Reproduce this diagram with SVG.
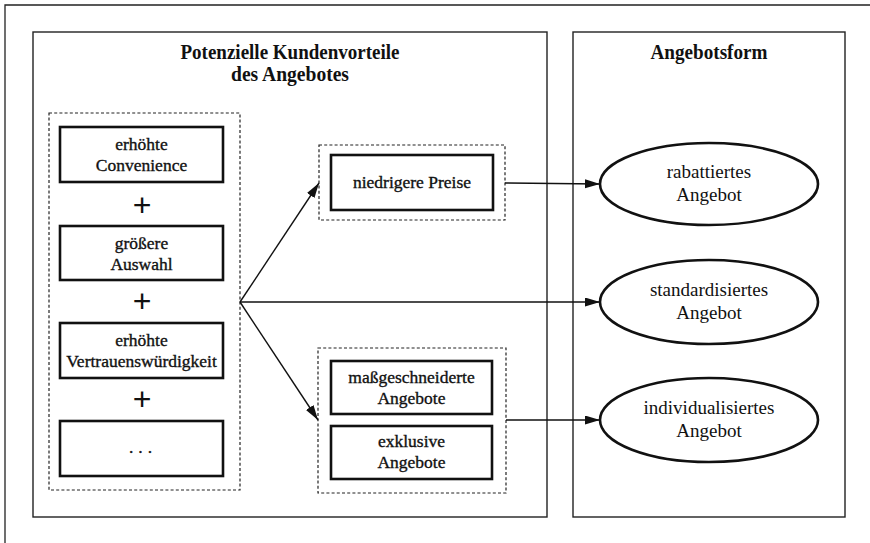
<svg xmlns="http://www.w3.org/2000/svg" width="870" height="543" viewBox="0 0 870 543">
<style>
.frame{fill:none;stroke:#222;stroke-width:1.3}
.panel{fill:none;stroke:#222;stroke-width:1.4}
.dot{fill:none;stroke:#222;stroke-width:1.2;stroke-dasharray:3 2.2}
.box{fill:#fff;stroke:#111;stroke-width:2.6}
.ell{fill:#fff;stroke:#111;stroke-width:2.6}
.hdr{font-family:"Liberation Serif","Times New Roman",serif;font-weight:bold;font-size:20px;fill:#111;text-anchor:middle}
.bt{font-family:"Liberation Serif","Times New Roman",serif;font-size:17.5px;fill:#111;stroke:#111;stroke-width:0.35;text-anchor:middle}
.et{font-family:"Liberation Serif","Times New Roman",serif;font-size:19px;fill:#111;text-anchor:middle}
.plus{font-family:"Liberation Sans",Arial,sans-serif;font-size:32px;fill:#111;text-anchor:middle}
.con{fill:none;stroke:#111;stroke-width:1.4}
</style>
<defs>
<marker id="ah" markerUnits="userSpaceOnUse" markerWidth="16" markerHeight="10" refX="15" refY="4.5" orient="auto">
<path d="M0,0 L15,4.5 L0,9 z" fill="#111"/>
</marker>
</defs>
<rect width="870" height="543" fill="#fff"/>
<g id="frame">
<path class="frame" d="M5,543 L5,5 L870,5"/>
</g>
<g id="panel-left">
<rect class="panel" x="33" y="32" width="514" height="485"/>
<text class="hdr" x="290" y="59" textLength="219" lengthAdjust="spacingAndGlyphs">Potenzielle Kundenvorteile</text>
<text class="hdr" x="290" y="81" textLength="118" lengthAdjust="spacingAndGlyphs">des Angebotes</text>
</g>
<g id="panel-right">
<rect class="panel" x="573" y="32" width="272" height="485"/>
<text class="hdr" x="709" y="59" textLength="117" lengthAdjust="spacingAndGlyphs">Angebotsform</text>
</g>
<g id="group-benefits">
<rect class="dot" x="49" y="113" width="191" height="377"/>
</g>
<g id="n-convenience">
<rect class="box" x="60" y="127" width="163" height="55"/>
<text class="bt" x="141.5" y="150">erhöhte</text>
<text class="bt" x="141.5" y="171">Convenience</text>
</g>
<text class="plus" x="142" y="216">+</text>
<g id="n-auswahl">
<rect class="box" x="60" y="226" width="163" height="54"/>
<text class="bt" x="141.5" y="249">größere</text>
<text class="bt" x="141.5" y="270">Auswahl</text>
</g>
<text class="plus" x="142" y="312">+</text>
<g id="n-vertrauen">
<rect class="box" x="60" y="323" width="163" height="55"/>
<text class="bt" x="141.5" y="346">erhöhte</text>
<text class="bt" x="141.5" y="367">Vertrauenswürdigkeit</text>
</g>
<text class="plus" x="142" y="410">+</text>
<g id="n-more">
<rect class="box" x="60" y="421" width="163" height="55"/>
<text class="bt" x="143" y="453" letter-spacing="5">...</text>
</g>
<g id="n-preise">
<rect class="dot" x="319" y="145" width="186" height="75"/>
<rect class="box" x="331" y="155" width="162" height="55"/>
<text class="bt" x="412" y="188">niedrigere Preise</text>
</g>
<g id="n-individuell">
<rect class="dot" x="318" y="348" width="188" height="145"/>
<rect class="box" x="331" y="361" width="161" height="53"/>
<text class="bt" x="411.5" y="383">maßgeschneiderte</text>
<text class="bt" x="411.5" y="404">Angebote</text>
<rect class="box" x="331" y="426" width="161" height="53"/>
<text class="bt" x="411.5" y="447">exklusive</text>
<text class="bt" x="411.5" y="468">Angebote</text>
</g>
<g id="n-rabattiert">
<ellipse class="ell" cx="709" cy="184" rx="109" ry="41"/>
<text class="et" x="709" y="178">rabattiertes</text>
<text class="et" x="709" y="201">Angebot</text>
</g>
<g id="n-standard">
<ellipse class="ell" cx="709" cy="302" rx="109" ry="42"/>
<text class="et" x="709" y="296">standardisiertes</text>
<text class="et" x="709" y="319">Angebot</text>
</g>
<g id="n-individualisiert">
<ellipse class="ell" cx="709" cy="420" rx="109" ry="42"/>
<text class="et" x="709" y="414">individualisiertes</text>
<text class="et" x="709" y="437">Angebot</text>
</g>
<g id="connectors">
<line class="con" x1="240" y1="302" x2="319" y2="183" marker-end="url(#ah)"/>
<line class="con" x1="240" y1="302" x2="600" y2="302" marker-end="url(#ah)"/>
<line class="con" x1="240" y1="302" x2="318" y2="420" marker-end="url(#ah)"/>
<line class="con" x1="505" y1="183" x2="600" y2="184" marker-end="url(#ah)"/>
<line class="con" x1="506" y1="420" x2="600" y2="420" marker-end="url(#ah)"/>
</g>
</svg>
